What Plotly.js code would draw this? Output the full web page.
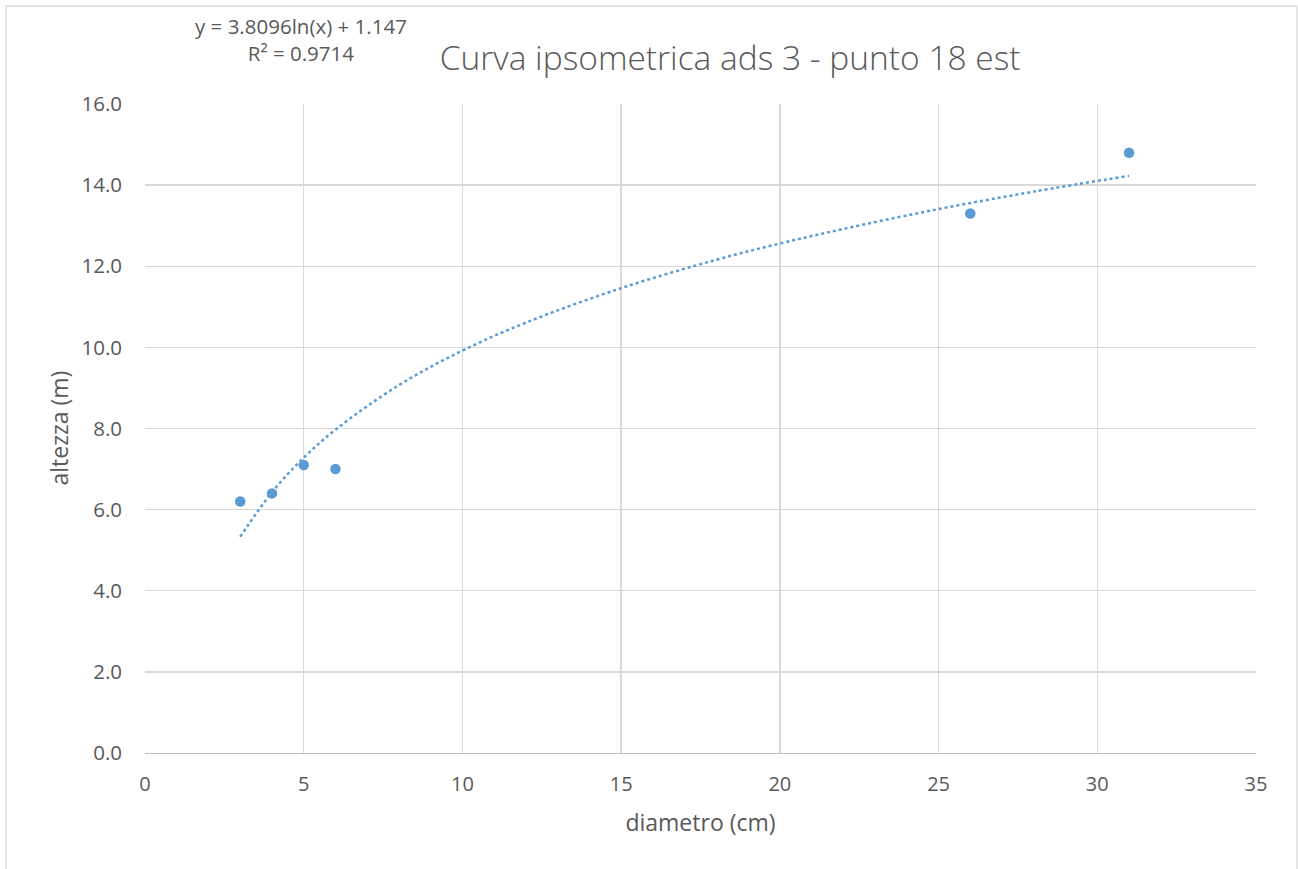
<!DOCTYPE html>
<html>
<head>
<meta charset="utf-8">
<script src="https://cdn.plot.ly/plotly-3.0.1.min.js"></script>
<style>html,body{margin:0;padding:0;background:#fff;}#chart{width:1298px;height:869px;}</style>
</head>
<body>
<div id="chart"></div>
<script>
// Measured data points
const diametro = [3, 4, 5, 6, 26, 31];
const altezza = [6.2, 6.4, 7.1, 7.0, 13.3, 14.8];
// Trendline points
const trendX = [3, 4, 5, 6, 8, 10, 12, 15, 18, 20, 22, 25, 28, 31];
const trendY = [5.33, 6.43, 7.28, 7.97, 9.07, 9.92, 10.61, 11.46, 12.16, 12.56, 12.92, 13.41, 13.84, 14.23];
const xTicks = [0, 5, 10, 15, 20, 25, 30, 35];
const yTicks = [0, 2, 4, 6, 8, 10, 12, 14, 16];
const titleText = 'Curva ipsometrica ads 3 - punto 18 est';
const xTitle = 'diametro (cm)';
const yTitle = 'altezza (m)';
const eqText = 'y = 3.8096ln(x) + 1.147<br>R² = 0.9714';

const blue = '#5b9bd5';
const font = '"Open Sans", "Noto Sans", sans-serif';

const traces = [
  {x: trendX, y: trendY, mode: 'lines', type: 'scatter', line: {color: blue, width: 2.5, dash: 'dot', shape: 'spline'}, hoverinfo: 'skip'},
  {x: diametro, y: altezza, mode: 'markers', type: 'scatter', marker: {color: blue, size: 10.5}}
];

const layout = {
  width: 1298, height: 869,
  margin: {l: 145, r: 42, t: 104, b: 116},
  paper_bgcolor: '#fff', plot_bgcolor: '#fff',
  showlegend: false,
  font: {family: font, color: '#595959', size: 18},
  title: {text: titleText, font: {size: 33.5, color: '#595959', family: font, weight: 300}, x: 0.5625, xanchor: 'center', y: 0.933, yanchor: 'middle'},
  xaxis: {
    range: [0, 35], tickvals: xTicks, ticktext: xTicks.map(String),
    showgrid: true, gridcolor: '#d9d9d9', gridwidth: 1.3,
    zeroline: false, showline: true, linecolor: '#bfbfbf', linewidth: 1.3,
    ticks: '', ticklen: 0, ticklabelstandoff: 13, tickfont: {size: 20, color: '#595959'},
    title: {text: xTitle, font: {size: 23, color: '#595959'}, standoff: 18}
  },
  yaxis: {
    range: [0, 16], tickvals: yTicks, ticktext: yTicks.map(v => v.toFixed(1)),
    showgrid: true, gridcolor: '#d9d9d9', gridwidth: 1.3,
    zeroline: false, showline: false,
    ticks: '', ticklabelstandoff: 22, tickfont: {size: 20.5, color: '#595959'}
  },
  annotations: [
    {text: eqText, xref: 'paper', yref: 'paper', x: (301 - 145) / 1111, y: (753 - 40) / 649, xanchor: 'center', yanchor: 'middle', showarrow: false, align: 'center', font: {size: 20.5, color: '#595959'}},
    {text: yTitle, xref: 'paper', yref: 'paper', x: (58 - 145) / 1111, y: 0.5, xanchor: 'center', yanchor: 'middle', textangle: -90, showarrow: false, font: {size: 23, color: '#595959'}}
  ],
  shapes: [
    {type: 'rect', xref: 'paper', yref: 'paper', x0: (6 - 145) / 1111, x1: (1297 - 145) / 1111, y0: (753 - 900) / 649, y1: (753 - 6) / 649, line: {color: '#d9d9d9', width: 1.3}, fillcolor: 'rgba(0,0,0,0)', layer: 'below'}
  ]
};

Plotly.newPlot('chart', traces, layout, {displayModeBar: false, staticPlot: true});
</script>
</body>
</html>
